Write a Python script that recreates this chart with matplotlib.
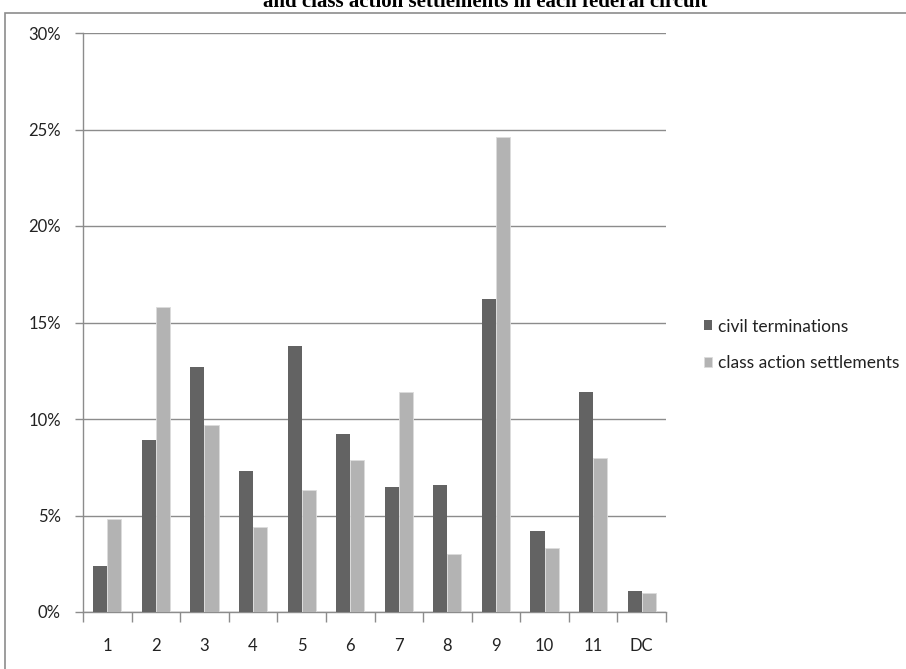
import matplotlib
matplotlib.use("Agg")
import matplotlib.pyplot as plt
import numpy as np
from matplotlib.patches import Rectangle

circuits = ["1", "2", "3", "4", "5", "6", "7", "8", "9", "10", "11", "DC"]
civil_terminations = [2.4, 8.9, 12.7, 7.3, 13.8, 9.2, 6.5, 6.6, 16.2, 4.2, 11.4, 1.1]
class_action_settlements = [4.8, 15.8, 9.7, 4.4, 6.3, 7.9, 11.4, 3.0, 24.6, 3.3, 8.0, 1.0]
yticks = [0, 5, 10, 15, 20, 25, 30]
ytick_labels = ["0%", "5%", "10%", "15%", "20%", "25%", "30%"]
title = "and class action settlements in each federal circuit"

W, H = 906, 669
fig = plt.figure(figsize=(W / 100, H / 100), dpi=100)
ax = fig.add_axes([83 / W, 1 - 612 / H, (666 - 83) / W, (612 - 33) / H])

font = "Lato"
x = np.arange(len(circuits))
bw = 0.29
ax.bar(x - bw / 2, civil_terminations, bw, color="#636363", label="civil terminations", zorder=3)
ax.bar(x + bw / 2, class_action_settlements, bw, color="#b3b3b3", edgecolor="#dcdcdc",
       linewidth=0.6, label="class action settlements", zorder=3)

ax.set_xlim(-0.5, len(circuits) - 0.5)
ax.set_ylim(0, 30)
ax.set_yticks(yticks)
ax.set_yticklabels(ytick_labels, fontfamily=font, fontsize=12, color="#222222")
ax.yaxis.grid(True, color="#8c8c8c", linewidth=1.0, zorder=0)
ax.set_axisbelow(True)

ax.set_xticks(x)
ax.set_xticklabels(circuits, fontfamily=font, fontsize=12, color="#222222")
ax.set_xticks(np.arange(-0.5, len(circuits), 1), minor=True)
ax.tick_params(axis="x", which="major", length=0, pad=19)
ax.tick_params(axis="x", which="minor", length=7, color="#8c8c8c", width=1)
ax.tick_params(axis="y", which="major", length=6, color="#8c8c8c", width=1, pad=10)

for s in ["top", "right"]:
    ax.spines[s].set_visible(False)
for s in ["left", "bottom"]:
    ax.spines[s].set_color("#8c8c8c")
    ax.spines[s].set_linewidth(1.0)

leg = ax.legend(loc="center left", bbox_to_anchor=(688 / W, 1 - 345 / H),
                bbox_transform=fig.transFigure, frameon=False,
                prop={"family": font, "size": 12.5}, handlelength=0.5, handleheight=0.5,
                handletextpad=0.3, labelspacing=1.2)
for t in leg.get_texts():
    t.set_color("#222222")

# outer chart frame
fig.patches.append(Rectangle((5 / W, -0.1), 1.2, 1 - 13 / H + 0.1, transform=fig.transFigure,
                             fill=False, edgecolor="#8c8c8c", linewidth=1.2))

fig.text(485 / W, 1 - 7 / H, title, ha="center", va="baseline",
         fontfamily="Liberation Serif", fontweight="bold", fontsize=15)

fig.savefig("out.png", dpi=100)
